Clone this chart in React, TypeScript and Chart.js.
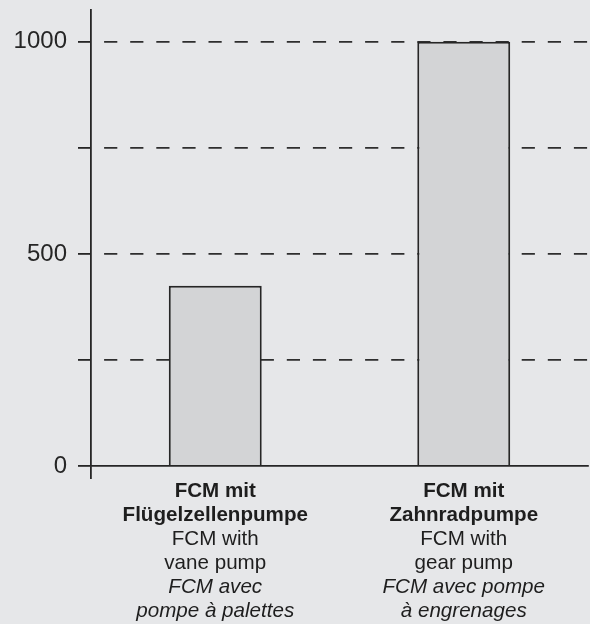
import React, { useEffect, useRef } from "react";
import { Chart, registerables } from "chart.js";

Chart.register(...registerables);

// ---- data ----
const categories = ["vane", "gear"];
const values = [425, 1000];
const labelsDe = [
  ["FCM mit", "Flügelzellenpumpe"],
  ["FCM mit", "Zahnradpumpe"],
];
const labelsEn = [
  ["FCM with", "vane pump"],
  ["FCM with", "gear pump"],
];
const labelsFr = [
  ["FCM avec", "pompe à palettes"],
  ["FCM avec pompe", "à engrenages"],
];
const yMin = 0;
const yMax = 1075;
const yStep = 250;
const yLabelled = [0, 500, 1000];

const FONT = "'Liberation Sans', Arial, Helvetica, sans-serif";
const INK = "#262626";
const BG = "#e6e7e9";
const BAR = "#d3d4d6";

export default function App() {
  const ref = useRef<HTMLCanvasElement | null>(null);

  useEffect(() => {
    if (!ref.current) return;
    const chart = new Chart(ref.current, {
      type: "bar",
      data: {
        labels: labelsDe as any,
        datasets: [
          {
            label: categories.join(","),
            data: values,
            backgroundColor: BAR,
            borderColor: INK,
            borderWidth: 2,
            barPercentage: 0.374,
            categoryPercentage: 1,
            xAxisID: "x",
            yAxisID: "y",
          },
        ],
      },
      options: {
        responsive: false,
        animation: false,
        devicePixelRatio: 1,
        layout: { padding: { top: 10, right: 2, bottom: 1, left: 0 } },
        plugins: {
          legend: { display: false },
          tooltip: { enabled: false },
          title: { display: false },
        },
        scales: {
          y: {
            type: "linear",
            position: "left",
            min: yMin,
            max: yMax,
            ticks: {
              stepSize: yStep,
              padding: 11,
              color: INK,
              font: { family: FONT, size: 24 },
              callback: (v: any) => (yLabelled.includes(Number(v)) ? String(v) : ""),
            },
            afterBuildTicks: (axis: any) => {
              axis.ticks = axis.ticks.filter((t: any) => t.value % yStep === 0);
            },
            afterFit: (s: any) => {
              s.width = 91;
              s.paddingTop = 0;
              s.paddingBottom = 0;
            },
            grid: {
              color: (ctx: any) =>
                ctx.tick && ctx.tick.value === 0 ? "rgba(0,0,0,0)" : "#2e2e2e",
              lineWidth: 1.8,
              tickColor: INK,
              tickBorderDash: [],
              tickLength: 13,
              tickWidth: 1.8,
            },
            border: {
              display: true,
              color: INK,
              width: 1.8,
              dash: [13.2, 12.9],
              dashOffset: 13.8,
            },
          },
          x: {
            type: "category",
            position: "bottom",
            weight: 0,
            offset: true,
            grid: {
              display: true,
              drawOnChartArea: false,
              drawTicks: true,
              tickLength: 13,
              offset: true,
              color: (ctx: any) => (ctx.index === 0 ? INK : "rgba(0,0,0,0)"),
              lineWidth: 1.8,
            },
            border: { display: true, color: INK, width: 1.8 },
            ticks: {
              color: "#1e1e1e",
              padding: 0,
              maxRotation: 0,
              autoSkip: false,
              font: { family: FONT, size: 20.6, weight: "bold", lineHeight: 24 / 20.6 },
            },
            afterFit: (s: any) => {
              s.height = 61;
              s.paddingLeft = 0;
              s.paddingRight = 0;
            },
          },
          x2: {
            type: "category",
            axis: "x",
            position: "bottom",
            weight: 1,
            offset: true,
            labels: labelsEn as any,
            grid: { display: false, drawTicks: false, tickLength: 0, offset: true },
            border: { display: false },
            ticks: {
              color: "#1e1e1e",
              padding: 0,
              maxRotation: 0,
              autoSkip: false,
              font: { family: FONT, size: 20.6, lineHeight: 24 / 20.6 },
            },
            afterFit: (s: any) => {
              s.height = 48;
              s.paddingLeft = 0;
              s.paddingRight = 0;
            },
          },
          x3: {
            type: "category",
            axis: "x",
            position: "bottom",
            weight: 2,
            offset: true,
            labels: labelsFr as any,
            grid: { display: false, drawTicks: false, tickLength: 0, offset: true },
            border: { display: false },
            ticks: {
              color: "#1e1e1e",
              padding: 0,
              maxRotation: 0,
              autoSkip: false,
              font: { family: FONT, size: 20.6, style: "italic", lineHeight: 24 / 20.6 },
            },
            afterFit: (s: any) => {
              s.height = 48;
              s.paddingLeft = 0;
              s.paddingRight = 0;
            },
          },
        } as any,
      },
    });
    return () => chart.destroy();
  }, []);

  return (
    <div
      style={{
        position: "fixed",
        left: 0,
        top: 0,
        width: 590,
        height: 624,
        background: BG,
      }}
    >
      <canvas ref={ref} width={590} height={624} style={{ display: "block" }} />
    </div>
  );
}
